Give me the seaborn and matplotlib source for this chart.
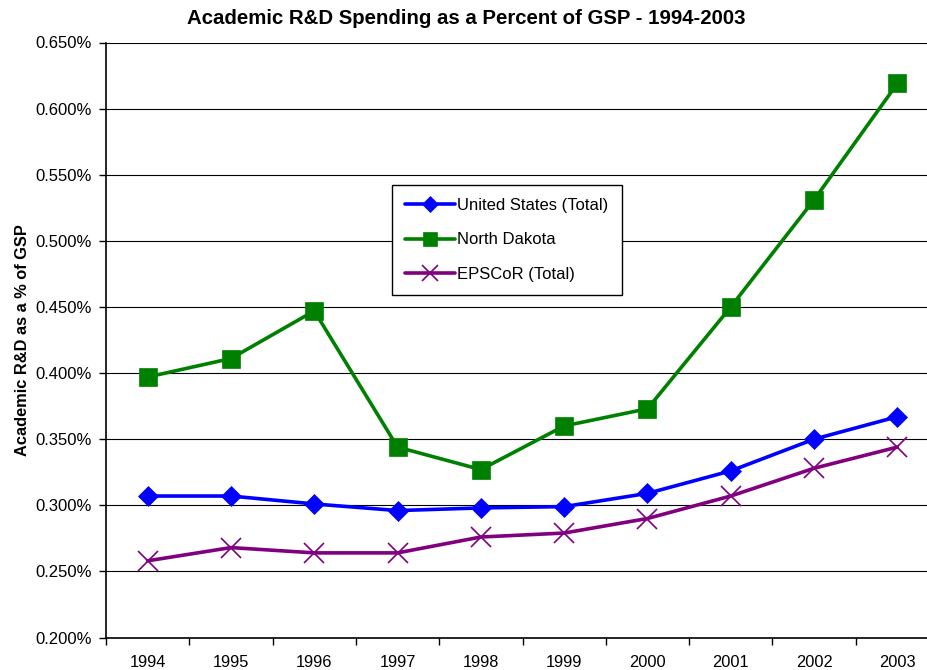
import matplotlib
matplotlib.use("Agg")
import matplotlib.pyplot as plt
from matplotlib.ticker import FixedLocator, FuncFormatter
import numpy as np
import pandas as pd
import seaborn as sns

years = ["1994", "1995", "1996", "1997", "1998", "1999", "2000", "2001", "2002", "2003"]
us_total = [0.307, 0.307, 0.301, 0.296, 0.298, 0.299, 0.309, 0.326, 0.350, 0.367]
north_dakota = [0.397, 0.411, 0.447, 0.344, 0.327, 0.360, 0.373, 0.450, 0.531, 0.619]
epscor_total = [0.258, 0.268, 0.264, 0.264, 0.276, 0.279, 0.290, 0.307, 0.328, 0.344]
series_names = ["United States (Total)", "North Dakota", "EPSCoR (Total)"]
y_ticks = [0.200, 0.250, 0.300, 0.350, 0.400, 0.450, 0.500, 0.550, 0.600, 0.650]

df = pd.concat([
    pd.DataFrame({"year": years, "value": vals, "series": name})
    for name, vals in zip(series_names, [us_total, north_dakota, epscor_total])
])

sns.set_style("white")
plt.rcParams["font.family"] = ["Liberation Sans", "DejaVu Sans"]
plt.rcParams["text.color"] = "black"
plt.rcParams["axes.labelcolor"] = "black"
plt.rcParams["xtick.color"] = "black"
plt.rcParams["ytick.color"] = "black"

fig = plt.figure(figsize=(9.28, 6.70), dpi=100)
ax = fig.add_axes([106 / 928, 1 - 637.5 / 670, 833 / 928, 595 / 670])

palette = {"United States (Total)": "#0000FF", "North Dakota": "#008000", "EPSCoR (Total)": "#800080"}
markers = {"United States (Total)": "D", "North Dakota": "s", "EPSCoR (Total)": "x"}
sizes = {"United States (Total)": 10.5, "North Dakota": 13, "EPSCoR (Total)": 14}

for name in series_names:
    sub = df[df["series"] == name]
    sns.lineplot(data=sub, x="year", y="value", ax=ax, color=palette[name],
                 linewidth=2.6, marker=markers[name], markersize=sizes[name],
                 markeredgewidth=1.2 if name == "EPSCoR (Total)" else 0.5,
                 markeredgecolor=palette[name], label=name, zorder=3)

ax.set_xlim(-0.5, len(years) - 0.5)
ax.set_ylim(0.200, 0.650)

ax.yaxis.set_major_locator(FixedLocator(y_ticks))
ax.yaxis.set_major_formatter(FuncFormatter(lambda v, p: f"{v:.3f}%"))
ax.grid(axis="y", color="black", linewidth=0.8)
ax.grid(axis="x", visible=False)

ax.set_xticks(range(len(years)))
ax.set_xticklabels(years)
ax.xaxis.set_minor_locator(FixedLocator(np.arange(-0.5, len(years), 1.0)))
ax.tick_params(axis="x", which="major", length=0, pad=12.5, labelsize=11.8)
ax.tick_params(axis="x", which="minor", length=5, width=1, color="black", direction="out", bottom=True)
ax.tick_params(axis="y", length=5, width=1, color="black", direction="out", left=True, labelsize=12, pad=5)

for side in ["top", "right"]:
    ax.spines[side].set_visible(False)
for side in ["left", "bottom"]:
    ax.spines[side].set_color("black")
    ax.spines[side].set_linewidth(1.2)

ax.set_xlabel("")
ax.set_ylabel("Academic R&D as a % of GSP", fontsize=11.8, fontweight="bold", labelpad=4)
fig.text(466 / 928, 1 - 18 / 670, "Academic R&D Spending as a Percent of GSP - 1994-2003",
         ha="center", va="center", fontsize=14.7, fontweight="bold")

leg = ax.legend(loc="upper left", bbox_to_anchor=((392 - 106) / 833, (637.5 - 185) / 595),
                frameon=True, fancybox=False, edgecolor="black", framealpha=1,
                fontsize=12, handlelength=3.0, handletextpad=0.1, labelspacing=1.15,
                borderpad=0.8, borderaxespad=0, markerscale=0.8)
leg.get_frame().set_linewidth(1.0)

fig.savefig("out.png", dpi=100)
